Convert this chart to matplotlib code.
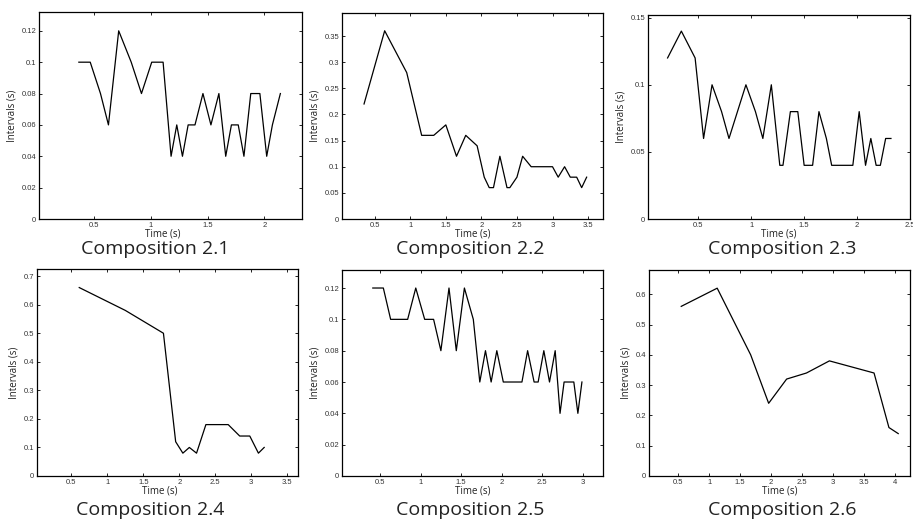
import matplotlib
matplotlib.use('Agg')
import matplotlib.pyplot as plt
from matplotlib.ticker import FuncFormatter, MultipleLocator

# values (time in s, interval in s)
t1 = [0.37, 0.47, 0.56, 0.63, 0.72, 0.83, 0.92, 1.01, 1.11, 1.18, 1.23, 1.28, 1.33,
      1.39, 1.46, 1.53, 1.60, 1.66, 1.71, 1.77, 1.82, 1.88, 1.96, 2.02, 2.07, 2.14]
v1 = [0.10, 0.10, 0.08, 0.06, 0.12, 0.10, 0.08, 0.10, 0.10, 0.04, 0.06, 0.04, 0.06,
      0.06, 0.08, 0.06, 0.08, 0.04, 0.06, 0.06, 0.04, 0.08, 0.08, 0.04, 0.06, 0.08]

t2 = [0.35, 0.64, 0.95, 1.16, 1.33, 1.50, 1.65, 1.78, 1.94, 2.04, 2.11, 2.17, 2.26,
      2.36, 2.40, 2.50, 2.58, 2.70, 3.00, 3.08, 3.17, 3.25, 3.34, 3.41, 3.48]
v2 = [0.22, 0.36, 0.28, 0.16, 0.16, 0.18, 0.12, 0.16, 0.14, 0.08, 0.06, 0.06, 0.12,
      0.06, 0.06, 0.08, 0.12, 0.10, 0.10, 0.08, 0.10, 0.08, 0.08, 0.06, 0.08]

t3 = [0.21, 0.34, 0.47, 0.55, 0.63, 0.72, 0.79, 0.87, 0.95, 1.04, 1.11, 1.19, 1.27,
      1.30, 1.37, 1.44, 1.50, 1.58, 1.64, 1.71, 1.76, 1.96, 2.02, 2.08, 2.13, 2.18,
      2.22, 2.27, 2.32]
v3 = [0.12, 0.14, 0.12, 0.06, 0.10, 0.08, 0.06, 0.08, 0.10, 0.08, 0.06, 0.10, 0.04,
      0.04, 0.08, 0.08, 0.04, 0.04, 0.08, 0.06, 0.04, 0.04, 0.08, 0.04, 0.06, 0.04,
      0.04, 0.06, 0.06]

t4 = [0.61, 1.25, 1.78, 1.95, 2.05, 2.14, 2.24, 2.37, 2.68, 2.84, 2.98, 3.10, 3.18]
v4 = [0.66, 0.58, 0.50, 0.12, 0.08, 0.10, 0.08, 0.18, 0.18, 0.14, 0.14, 0.08, 0.10]

t5 = [0.41, 0.54, 0.63, 0.84, 0.94, 1.05, 1.16, 1.25, 1.35, 1.44, 1.54, 1.65, 1.73,
      1.80, 1.87, 1.94, 2.02, 2.25, 2.32, 2.40, 2.45, 2.52, 2.59, 2.66, 2.72, 2.77,
      2.89, 2.94, 2.99]
v5 = [0.12, 0.12, 0.10, 0.10, 0.12, 0.10, 0.10, 0.08, 0.12, 0.08, 0.12, 0.10, 0.06,
      0.08, 0.06, 0.08, 0.06, 0.06, 0.08, 0.06, 0.06, 0.08, 0.06, 0.08, 0.04, 0.06,
      0.06, 0.04, 0.06]

t6 = [0.55, 1.13, 1.67, 1.96, 2.25, 2.57, 2.94, 3.66, 3.90, 4.05]
v6 = [0.56, 0.62, 0.40, 0.24, 0.32, 0.34, 0.38, 0.34, 0.16, 0.14]

titles = ['Composition 2.1', 'Composition 2.2', 'Composition 2.3',
          'Composition 2.4', 'Composition 2.5', 'Composition 2.6']
series = [(t1, v1), (t2, v2), (t3, v3), (t4, v4), (t5, v5), (t6, v6)]
xlims = [(0.02, 2.33), (0.04, 3.71), (0.025, 2.5), (0.023, 3.65), (0.03, 3.25), (0.03, 4.24)]
ylims = [0.132, 0.394, 0.152, 0.725, 0.1315, 0.68]
ysteps = [0.02, 0.05, 0.05, 0.1, 0.02, 0.1]

W, H = 913, 520
# axes boxes in pixels: left, top, right, bottom
boxes = [(39, 12, 302, 219), (342, 13, 603, 219), (648, 15, 910, 219),
         (37, 269, 298, 476), (342, 270, 603, 476), (649, 270, 910, 476)]
# caption centre x and baseline y in pixels
caps = [(155, 254), (470, 254), (782, 254), (150, 515), (470, 515), (782, 515)]

fig = plt.figure(figsize=(W / 100, H / 100), dpi=100)
fmt = FuncFormatter(lambda v, p: '%g' % round(v, 4))

for i in range(6):
    l, t, r, b = boxes[i]
    ax = fig.add_axes([l / W, 1 - b / H, (r - l) / W, (b - t) / H])
    x, y = series[i]
    ax.plot(x, y, color='black', lw=0.9)
    ax.set_xlim(*xlims[i])
    ax.set_ylim(0, ylims[i])
    ax.xaxis.set_major_locator(MultipleLocator(0.5))
    ax.yaxis.set_major_locator(MultipleLocator(ysteps[i]))
    ax.xaxis.set_major_formatter(fmt)
    ax.yaxis.set_major_formatter(fmt)
    ax.tick_params(direction='in', length=2.5, width=0.7, top=True, right=True,
                   labelsize=5.5, pad=2, colors='#222222', labelcolor='#333333')
    for lab in ax.get_xticklabels() + ax.get_yticklabels():
        lab.set_family('Liberation Sans')
    for s in ax.spines.values():
        s.set_linewidth(0.9)
    ax.set_xlabel('Time (s)', family='Open Sans', fontsize=7, labelpad=0, color='#222222')
    ax.set_ylabel('Intervals (s)', family='Open Sans', fontsize=7, labelpad=3, color='#222222')
    if i % 3 == 0:
        ax.xaxis.set_label_coords(0.47, -0.045, transform=ax.transAxes)
        ax.xaxis.label.set_va('top')
    cx, cy = caps[i]
    fig.text(cx / W, 1 - cy / H, titles[i], family='Open Sans', fontsize=14,
             ha='center', va='baseline', color='#222222')

fig.savefig('out.png', dpi=100)
